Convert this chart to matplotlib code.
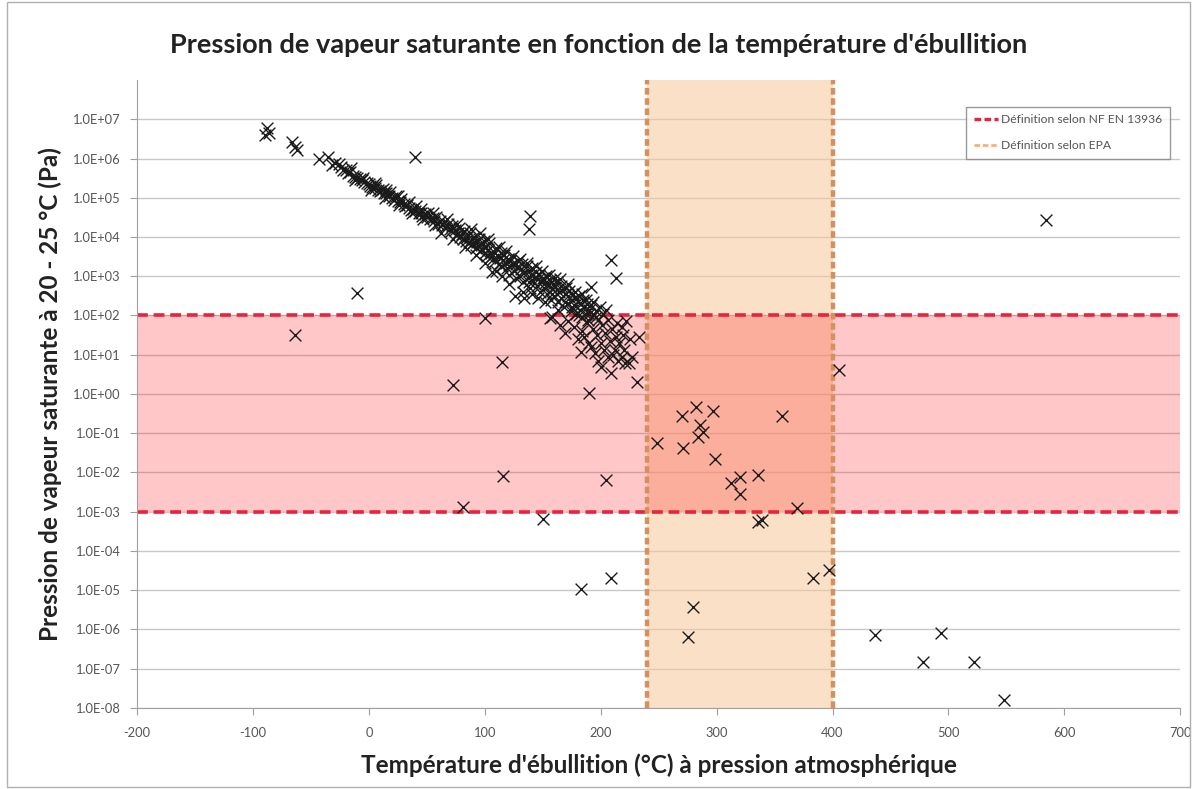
import matplotlib
matplotlib.use("Agg")
import matplotlib.pyplot as plt
from matplotlib.patches import Rectangle
from matplotlib.lines import Line2D
from matplotlib.ticker import NullLocator

# ---------------- data (boiling point °C, vapour pressure Pa) ----------------
band_temp = [-26, -24, -22, -20, -18, -16, -14, -12, -10, -8, -6, -4, -2, 0, 1, 3, 5, 6, 8, 10,
             12, 13, 15, 17, 18, 20, 22, 23, 25, 27, 28, 30, 31, 33, 35, 36, 38, 40, 41, 43,
             45, 46, 48, 50, 51, 53, 55, 56, 58, 60, 61, 63, 65, 66, 68, 70, 71, 72, 74, 75,
             77, 78, 79, 80, 81, 82, 84, 85, 86, 87, 88, 89, 90, 91, 92, 93, 94, 95, 96, 97,
             98, 99, 100, 101, 102, 103, 104, 105, 106, 107, 108, 109, 110, 111, 112, 113, 114, 115, 116, 117,
             118, 119, 120, 121, 122, 123, 124, 125, 126, 127, 128, 129, 130, 131, 132, 133, 134, 135, 136, 137,
             138, 139, 140, 141, 142, 143, 144, 145, 146, 147, 148, 149, 150, 151, 152, 153, 154, 155, 156, 157,
             158, 159, 160, 161, 162, 163, 164, 165, 166, 167, 168, 169, 170, 171, 172, 173, 174, 175, 176, 177,
             178, 179, 180, 181, 182, 183, 184, 185, 186, 187, 188, 189, 190, 192, 194, 196, 198]
band_pa = [7.1e5, 6.0e5, 5.2e5, 5.0e5, 4.2e5, 4.5e5, 3.5e5, 3.3e5, 3.2e5, 3.0e5, 2.8e5, 2.5e5, 2.4e5, 2.2e5, 2.0e5, 1.9e5, 1.8e5, 2.1e5, 1.6e5, 1.5e5,
           1.7e5, 1.3e5, 1.3e5, 1.1e5, 1.4e5, 1.0e5, 8.9e4, 1.1e5, 8.3e4, 7.6e4, 9.5e4, 7.1e4, 6.0e4, 6.6e4, 5.6e4, 4.8e4, 5.2e4, 4.5e4, 6.0e4, 4.0e4,
           4.2e4, 3.5e4, 3.8e4, 3.2e4, 4.2e4, 2.8e4, 3.0e4, 2.5e4, 3.3e4, 2.2e4, 2.6e4, 2.0e4, 2.4e4, 1.8e4, 2.1e4, 1.6e4, 1.4e4, 1.9e4, 1.5e4, 1.1e4,
           1.3e4, 1.7e4, 1.0e4, 1.2e4, 8.9e3, 1.4e4, 7.9e3, 1.0e4, 7.6e3, 1.3e4, 6.3e3, 8.9e3, 7.1e3, 1.0e4, 5.2e3, 7.6e3, 6.0e3, 8.9e3, 4.5e3, 6.6e3,
           5.0e3, 7.9e3, 4.0e3, 5.6e3, 3.2e3, 4.8e3, 7.1e3, 3.8e3, 1.3e3, 2.8e3, 4.2e3, 2.5e3, 5.2e3, 3.3e3, 2.0e3, 3.0e3, 4.0e3, 1.8e3, 2.6e3, 3.5e3,
           2.2e3, 1.6e3, 2.8e3, 1.1e3, 2.4e3, 1.9e3, 3.2e3, 1.4e3, 3.2e2, 2.0e3, 1.7e3, 2.5e3, 1.0e3, 1.5e3, 2.1e3, 7.1e2, 2.8e2, 1.3e3, 1.8e3, 8.9e2,
           1.4e3, 5.0e2, 1.1e3, 1.6e3, 7.6e2, 9.5e2, 1.3e3, 5.6e2, 8.3e2, 1.1e3, 4.0e2, 7.1e2, 8.9e2, 5.0e2, 6.6e2, 1.0e3, 3.5e2, 6.0e2, 7.9e2, 2.5e2,
           4.8e2, 6.3e2, 3.2e2, 5.2e2, 7.1e2, 2.2e2, 4.0e2, 8.3e2, 2.8e2, 4.5e2, 1.6e2, 3.5e2, 5.0e2, 2.0e2, 3.2e2, 4.2e2, 1.3e2, 2.5e2, 3.5e2, 1.8e2,
           2.8e2, 1.1e2, 2.2e2, 3.2e2, 1.4e2, 2.0e2, 8.9e1, 2.5e2, 1.6e2, 1.1e2, 2.0e2, 7.9e1, 1.4e2, 1.8e2, 1.0e2, 1.3e2, 7.9e1]

band2_temp = [62, 67, 73, 76, 83, 88, 92, 96, 100, 103, 106, 110, 112, 115, 118, 121, 124, 127, 130, 133,
              136, 138, 141, 144, 146, 149, 152, 155, 158, 161, 163, 166, 169, 172, 175, 178, 181, 184, 187, 190,
              193, 196, 199, 202, 205, -15, -5, 5, 15, 25, 35, 45, 55, -12, 2, 14, 26, 37, 47, 57]
band2_pa = [1.3e4, 2.8e4, 8.9e3, 2.2e4, 5.6e3, 1.6e4, 3.5e3, 1.3e4, 2.2e3, 8.9e3, 3.2e3, 1.4e3, 5.6e3, 1.0e3, 4.5e3, 6.3e2, 2.0e3, 8.9e2, 2.8e3, 4.0e2,
            2.2e3, 7.1e2, 3.5e2, 1.8e3, 2.8e2, 1.4e3, 2.2e2, 1.1e3, 3.5e2, 8.9e2, 1.4e2, 5.6e2, 2.2e2, 6.3e2, 1.6e2, 4.0e2, 1.0e2, 3.5e2, 2.5e2, 1.1e2,
            2.2e2, 8.9e1, 1.6e2, 1.1e2, 1.4e2, 5.6e5, 3.2e5, 2.4e5, 1.6e5, 1.1e5, 7.6e4, 5.2e4, 4.0e4, 2.8e5, 1.6e5, 1.0e5, 6.6e4, 4.0e4, 2.8e4, 2.0e4]

pink_temp = [156, 158, 165, 169, 172, 177, 180, 183, 184, 186, 188, 190, 192, 193, 195, 197, 198, 200, 200, 201,
             203, 204, 206, 206, 208, 209, 210, 211, 212, 213, 214, 215, 216, 218, 218, 219, 220, 221, 222, 224,
             225, 227]
pink_pa = [87, 91, 56, 35, 71, 50, 25, 12, 40, 28, 63, 20, 16, 45, 11, 32, 7.1, 20, 4.9, 56,
           13, 35, 8.7, 78, 22, 3.5, 45, 10, 13, 28, 63, 7.1, 20, 8.7, 50, 32, 13, 6.3, 71, 6.2,
           25, 8.9]

other_temp = [-88, -86, -90, -66, -62, -64, -43, -35, -32, -29, 40, -10, -64, 139, 138, 209, 213, 192, 233, 231,
              100, 115, 73, 190, 116, 81, 150, 205, 183, 209, 249, 270, 282, 297, 286, 284, 288, 271, 299, 356,
              312, 320, 320, 336, 369, 336, 339, 383, 397, 280, 275, 406, 584, 437, 494, 478, 522, 548]
other_pa = [5.9e6, 4.4e6, 4.0e6, 2.6e6, 1.6e6, 2.0e6, 1.0e6, 1.1e6, 6.8e5, 7.9e5, 1.1e6, 3.7e2, 32, 3.4e4, 1.6e4, 2.6e3, 8.9e2, 5.4e2, 28, 2.0,
            87, 6.6, 1.7, 1.07, 8.3e-3, 1.3e-3, 6.6e-4, 6.5e-3, 1.05e-5, 2.1e-5, 5.8e-2, 2.8e-1, 4.7e-1, 3.7e-1, 1.6e-1, 8.1e-2, 1.1e-1, 4.3e-2, 2.2e-2, 2.8e-1,
            5.5e-3, 7.8e-3, 2.9e-3, 8.7e-3, 1.26e-3, 5.6e-4, 6.3e-4, 2.1e-5, 3.2e-5, 3.8e-6, 6.3e-7, 4.1, 2.7e4, 7.4e-7, 8.3e-7, 1.5e-7, 1.5e-7, 1.55e-8]

nf_limits = [1e-3, 1e2]     # NF EN 13936 definition (Pa)
epa_limits = [240, 400]     # EPA definition (°C)
x_ticks = [-200, -100, 0, 100, 200, 300, 400, 500, 600, 700]
y_exps = list(range(-8, 8))

title = "Pression de vapeur saturante en fonction de la température d'ébullition"
xlabel = "Température d'ébullition (°C) à pression atmosphérique"
ylabel = "Pression de vapeur saturante à 20 - 25 °C (Pa)"
legend_labels = ["Définition selon NF EN 13936", "Définition selon EPA"]

# ---------------- figure ----------------
plt.rcParams['font.family'] = ['Lato', 'DejaVu Sans']
fig = plt.figure(figsize=(11.97, 7.89), dpi=100)
ax = fig.add_axes([0.1145, 0.1027, 0.8715, 0.7959])

ax.set_yscale('log')
ax.set_xlim(-200, 700)
ax.set_ylim(1e-8, 1e8)

yt = [10.0 ** e for e in y_exps]
ax.set_yticks(yt)
ax.set_yticklabels(["1.0E" + ("+" if e >= 0 else "-") + "%02d" % abs(e) for e in y_exps])
ax.yaxis.set_minor_locator(NullLocator())
ax.set_xticks(x_ticks)
ax.set_xticklabels([str(v) for v in x_ticks])

for v in yt:
    ax.axhline(v, color='#C8C8C8', lw=1.0, zorder=0.5)

# bands
ax.axvspan(epa_limits[0], epa_limits[1], color='#F9C89B', alpha=0.55, lw=0, zorder=1)
ax.axhspan(nf_limits[0], nf_limits[1], color='#FF0000', alpha=0.22, lw=0, zorder=1.1)

# limit lines
for v in nf_limits:
    ax.axhline(v, color='#E8243C', lw=2.6, ls=(0, (3, 1.6)), zorder=2)
for v in epa_limits:
    ax.axvline(v, color='#D59060', lw=3.2, ls=(0, (1.5, 0.8)), zorder=2)

# points
allT = band_temp + band2_temp + pink_temp + other_temp
allP = band_pa + band2_pa + pink_pa + other_pa
ax.scatter(allT, allP, marker='x', s=72, color='#1A1A1A', linewidths=1.0, zorder=3)

# axes styling
for s in ['top', 'right']:
    ax.spines[s].set_visible(False)
for s in ['left', 'bottom']:
    ax.spines[s].set_color('#A0A0A0')
ax.tick_params(axis='both', colors='#A0A0A0', labelcolor='#555555', labelsize=9.3, length=5)
ax.tick_params(axis='x', pad=9)
ax.tick_params(axis='y', pad=7)

fig.text(0.5, 1 - 45 / 789, title, fontsize=19.5, fontweight='bold', color='#222222',
         ha='center', va='center')
ax.set_xlabel(xlabel, fontsize=17.5, fontweight='bold', color='#222222', labelpad=10)
ax.set_ylabel(ylabel, fontsize=17.5, fontweight='bold', color='#222222', labelpad=8)

handles = [Line2D([0], [0], color='#E8243C', lw=2.4, ls=(0, (2, 1))),
           Line2D([0], [0], color='#F5B07A', lw=2.0, ls=(0, (2, 1)))]
leg = ax.legend(handles, legend_labels, loc='upper right', bbox_to_anchor=(0.990, 0.957),
                borderaxespad=0.0, fontsize=8.7, frameon=True, fancybox=False, edgecolor='#808080',
                handlelength=2.0, handletextpad=0.3, labelspacing=1.25, borderpad=0.6)
for t in leg.get_texts():
    t.set_color('#555555')
leg.get_frame().set_linewidth(1.0)

fig.patches.append(Rectangle((0.006, 0.003), 0.988, 0.994, transform=fig.transFigure,
                             fill=False, edgecolor='#B0B0B0', lw=1.0))

fig.savefig('out.png', dpi=100)
